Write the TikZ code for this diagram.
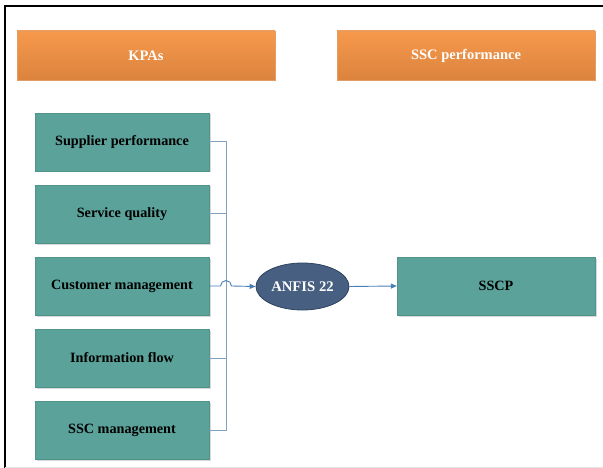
\documentclass[tikz,border=0pt]{standalone}
\usepackage{fontspec}
\setmainfont{Liberation Serif}
\usetikzlibrary{shadows,arrows.meta,shapes.geometric}
\definecolor{tealbox}{HTML}{5AA29A}
\definecolor{orangetop}{HTML}{F6994C}
\definecolor{orangebot}{HTML}{DB833E}
\definecolor{slate}{HTML}{475F80}
\definecolor{slateedge}{HTML}{2E4460}
\definecolor{busline}{HTML}{7FA2BF}
\definecolor{arrline}{HTML}{4A7FB5}
\begin{document}
\begin{tikzpicture}[x=1pt,y=1pt,
  header/.style={rectangle, minimum width=258pt, minimum height=49pt, inner sep=0pt,
    top color=orangetop, bottom color=orangebot, draw=orangebot!80!white,
    text=white, font=\bfseries\fontsize{14.5}{16}\selectfont,
    drop shadow={shadow xshift=1pt, shadow yshift=-1pt, fill=gray!50, opacity=0.5}},
  kpa/.style={rectangle, minimum width=174pt, minimum height=58pt, inner sep=0pt,
    fill=tealbox, draw=tealbox!90!black, line width=0.3pt,
    font=\bfseries\fontsize{14.2}{16}\selectfont,
    drop shadow={shadow xshift=1.5pt, shadow yshift=-1.5pt, fill=gray!60, opacity=0.5}},
  anfis/.style={ellipse, minimum width=93pt, minimum height=47pt, inner sep=0pt,
    fill=slate, draw=slateedge, line width=0.8pt, text=white,
    font=\bfseries\fontsize{14.7}{16}\selectfont},
  bus/.style={draw=busline, line width=1pt},
  flow/.style={draw=arrline, line width=0.9pt, -{Triangle[length=6pt,width=5pt]}}
]
\useasboundingbox (0,0) rectangle (603,-468);
% frame
\draw[line width=2pt, black] (5,-468) -- (5,-6) -- (603,-6);
\draw[line width=0.4pt, gray!20] (5,-467.5) -- (603,-467.5);

% column headers
\node[header] (kpas) at (146,-55.5) {KPAs};
\node[header] (sscperf) at (466,-55.5) {SSC performance};

% key performance areas
\node[kpa] (sup)  at (122,-142) {Supplier performance};
\node[kpa] (serv) at (122,-214) {Service quality};
\node[kpa] (cust) at (122,-286) {Customer management};
\node[kpa] (info) at (122,-358) {Information flow};
\node[kpa] (sscm) at (122,-430) {SSC management};

% model and output
\node[anfis] (anfis) at (302.5,-286.5) {ANFIS 22};
\node[kpa, minimum width=198pt] (sscp) at (496,-286) {SSCP};

% collecting bus
\coordinate (bt) at (226,-142);
\coordinate (bb) at (226,-430);
\draw[bus] (sup.east) -- (bt) -- (bb) -- (sscm.east);
\draw[bus] (serv.east) -- (serv.east -| bt);
\draw[bus] (info.east) -- (info.east -| bt);

% customer line hops over the bus, then feeds the model
\coordinate (hopin) at (220.5,-286);
\draw[flow] (cust.east) -- (hopin) arc[start angle=180, end angle=0, radius=5.5] -- (anfis.west);
\draw[flow] (anfis.east) -- (sscp.west);
\end{tikzpicture}
\end{document}
